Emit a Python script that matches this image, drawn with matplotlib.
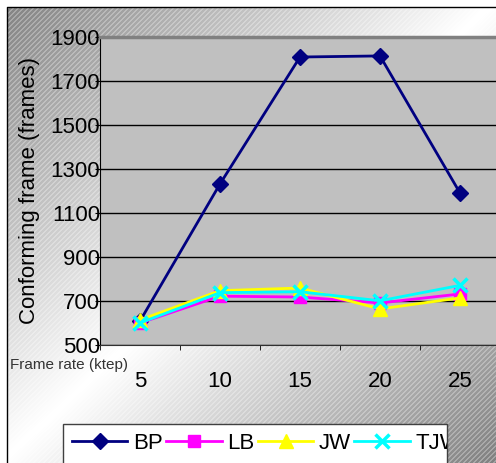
import numpy as np
import matplotlib
matplotlib.use('Agg')
import matplotlib.pyplot as plt
from matplotlib.patches import Rectangle
from matplotlib.transforms import Bbox, TransformedBbox

# data
rates = [5, 10, 15, 20, 25]
bp = [609, 1232, 1809, 1814, 1191]
lb = [600, 722, 718, 691, 732]
jw = [614, 747, 759, 664, 714]
tjw = [600, 738, 742, 701, 771]
yticks = [500, 700, 900, 1100, 1300, 1500, 1700, 1900]

plt.rcParams['font.family'] = ['Liberation Sans', 'DejaVu Sans']

W, H = 496, 463
fig = plt.figure(figsize=(W / 100, H / 100), dpi=100)

# background: diagonal grey gradient with hatching
bg = fig.add_axes([0, 0, 1, 1], zorder=-10)
yy, xx = np.mgrid[0:H, 0:W]
d = np.abs(xx / W + yy / H - 1.0)
stripes = ((xx + yy) % 5 < 2).astype(float)
img = 1 - 0.5 * d + 0.14 * d * stripes
img[:7, :] = 1
img[:, :7] = 1
bg.imshow(img, cmap='gray', vmin=0, vmax=1, extent=[0, W, H, 0],
          interpolation='nearest', aspect='auto')
bg.plot([7, 7, W], [H, 7, 7], color='black', lw=1)
bg.set_xlim(0, W)
bg.set_ylim(H, 0)
bg.axis('off')

# plot area
ax = fig.add_axes([100 / W, 1 - 345 / H, 400 / W, 308 / H])
ax.set_facecolor('#c0c0c0')
x = np.arange(1, len(rates) + 1)
ax.set_xlim(0.5, len(rates) + 0.5)
ax.set_ylim(500, 1900)
ax.set_yticks(yticks)
ax.grid(axis='y', color='black', lw=1)
ax.set_axisbelow(True)
ax.set_xticks(x)
ax.set_xticklabels(rates)
ax.set_xticks(np.arange(0.5, len(rates) + 0.6, 1), minor=True)
ax.tick_params(axis='x', which='major', length=0, pad=19, labelsize=16)
ax.tick_params(axis='x', which='minor', length=3.6, direction='out')
ax.tick_params(axis='y', length=3.6, direction='out', pad=-3.6, labelsize=16)
ax.spines['top'].set_color('#808080')
ax.spines['top'].set_linewidth(2.5)
ax.spines['right'].set_visible(False)
ax.spines['bottom'].set_color('#303030')

ax.plot(x, bp, color='#000080', marker='D', ms=8, lw=2, label='BP')
ax.plot(x, lb, color='#ff00ff', marker='s', ms=8, lw=2, label='LB')
ax.plot(x, jw, color='#ffff00', marker='^', ms=10, lw=2, label='JW')
ax.plot(x, tjw, color='#00ffff', marker='x', ms=10, mew=2.5, lw=2, label='TJW')

fig.text(30 / W, 1 - 190 / H, 'Conforming frame (frames)', rotation=90,
         ha='center', va='center', fontsize=16)
fig.text(10 / W, 1 - 365 / H, 'Frame rate (ktep)', fontsize=11, color='#333333', va='center')

# legend box, cut off on the right and bottom
fig.patches.append(Rectangle((63 / W, -0.1), (447 - 63) / W, 1.1 - 424 / H,
                             transform=fig.transFigure, facecolor='white',
                             edgecolor='#404040', lw=1, zorder=5))
handles, labels = ax.get_legend_handles_labels()
leg = fig.legend(handles, labels, loc='upper left', bbox_to_anchor=(63 / W, 1 - 424 / H),
                 ncol=4, frameon=False, fontsize=16, handlelength=2.5,
                 handletextpad=0.25, columnspacing=0.15, borderaxespad=0)
leg.set_zorder(6)
clip = TransformedBbox(Bbox([[0, 0], [447 / W, 1]]), fig.transFigure)
for t in leg.get_texts():
    t.set_clip_box(clip)
    t.set_clip_on(True)

fig.savefig('out.png', dpi=100)
